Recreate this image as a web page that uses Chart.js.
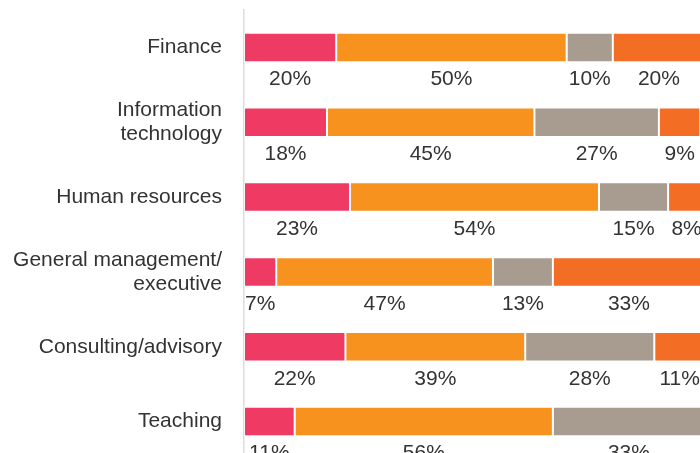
<!DOCTYPE html>
<html>
<head>
<meta charset="utf-8">
<script src="https://cdn.jsdelivr.net/npm/chart.js@4.4.1/dist/chart.umd.min.js"></script>
<style>
  html, body { margin: 0; padding: 0; background: #ffffff; overflow: hidden; }
  #wrap { width: 700px; height: 453px; overflow: hidden; position: relative; }
  #c { display: block; }
</style>
</head>
<body>
<div id="wrap"><canvas id="c" width="705" height="459"></canvas></div>
<script>
// ---- data ----
const categories = [
  "Finance",
  ["Information", "technology"],
  "Human resources",
  ["General management/", "executive"],
  "Consulting/advisory",
  "Teaching"
];
const seriesNames = ["Segment 1", "Segment 2", "Segment 3", "Segment 4"];
const series1 = [20, 18, 23, 7, 22, 11];
const series2 = [50, 45, 54, 47, 39, 56];
const series3 = [10, 27, 15, 13, 28, 33];
const series4 = [20, 9, 8, 33, 11, null];

const colors = ["#EF3B64", "#F7921E", "#A89B90", "#F36D25"];
const FONT = '"Liberation Sans", Arial, Helvetica, sans-serif';

const segmentLabels = {
  id: 'segmentLabels',
  afterDatasetsDraw(chart) {
    const ctx = chart.ctx;
    ctx.save();
    ctx.font = '21px ' + FONT;
    ctx.fillStyle = '#333333';
    ctx.textAlign = 'center';
    ctx.textBaseline = 'alphabetic';
    chart.data.datasets.forEach((ds, i) => {
      const meta = chart.getDatasetMeta(i);
      meta.data.forEach((bar, j) => {
        const v = ds.data[j];
        if (v == null || v === 0) return;
        const p = bar.getProps(['x', 'y', 'base', 'height'], true);
        const cx = (p.x + p.base) / 2;
        ctx.fillText(v + '%', cx, p.y + p.height / 2 + 23);
      });
    });
    ctx.restore();
  }
};

const allSeries = [series1, series2, series3, series4];
new Chart(document.getElementById('c'), {
  type: 'bar',
  data: {
    labels: categories,
    datasets: allSeries.map((d, i) => ({
      label: seriesNames[i],
      data: d,
      backgroundColor: colors[i],
      borderColor: 'rgba(255,255,255,0.45)',
      borderWidth: 1,
      borderSkipped: false,
      categoryPercentage: 1.0,
      barPercentage: 0.395
    }))
  },
  options: {
    indexAxis: 'y',
    responsive: false,
    animation: false,
    layout: { padding: { top: 10, left: 0, right: 0, bottom: 0 } },
    plugins: {
      legend: { display: false },
      tooltip: { enabled: false }
    },
    scales: {
      x: {
        stacked: true,
        display: false,
        min: 0,
        max: 100
      },
      y: {
        stacked: true,
        grid: { display: false, drawTicks: false },
        border: { display: true, color: '#dcdcdc', width: 1.5 },
        ticks: {
          color: '#333333',
          padding: 22,
          font: { family: FONT, size: 21, lineHeight: 1.16 }
        },
        afterFit(scale) {
          scale.width = 244;
          scale.paddingTop = 0;
          scale.paddingBottom = 0;
        }
      }
    }
  },
  plugins: [segmentLabels]
});
</script>
</body>
</html>
